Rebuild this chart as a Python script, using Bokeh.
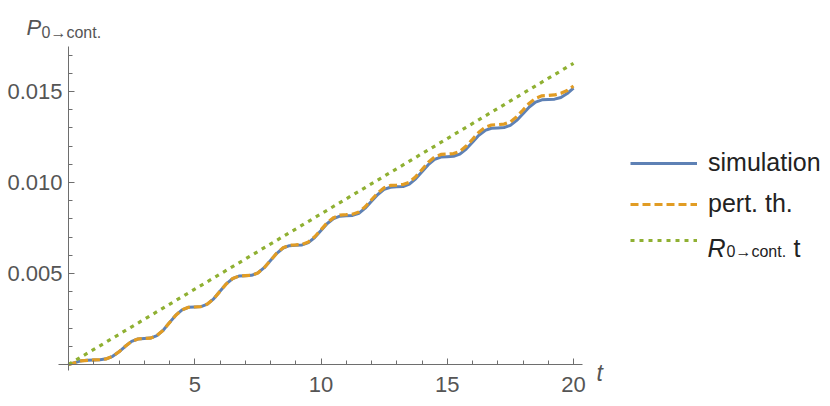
from bokeh.plotting import figure
from bokeh.models import (LinearAxis, FixedTicker, PrintfTickFormatter, Legend,
                          LegendItem, Label, Range1d)
from bokeh.embed import file_html
from bokeh.resources import INLINE

# ---- data ----
t = [i / 4 for i in range(81)]
simulation = [
    0.00000, 0.00010, 0.00020, 0.00023, 0.00025, 0.00026, 0.00031, 0.00045,
    0.00070, 0.00100, 0.00127, 0.00140, 0.00143, 0.00145, 0.00159, 0.00188,
    0.00230, 0.00271, 0.00300, 0.00314, 0.00316, 0.00318, 0.00332, 0.00361,
    0.00402, 0.00443, 0.00472, 0.00486, 0.00488, 0.00490, 0.00503, 0.00532,
    0.00572, 0.00611, 0.00640, 0.00653, 0.00655, 0.00657, 0.00670, 0.00698,
    0.00736, 0.00775, 0.00802, 0.00815, 0.00817, 0.00819, 0.00831, 0.00859,
    0.00897, 0.00934, 0.00962, 0.00974, 0.00976, 0.00978, 0.00991, 0.01020,
    0.01059, 0.01098, 0.01127, 0.01140, 0.01142, 0.01144, 0.01156, 0.01184,
    0.01221, 0.01259, 0.01286, 0.01298, 0.01300, 0.01302, 0.01314, 0.01341,
    0.01378, 0.01415, 0.01442, 0.01454, 0.01456, 0.01458, 0.01467, 0.01489,
    0.01518,
]
pert_th = [
    0.00000, 0.00010, 0.00020, 0.00023, 0.00025, 0.00026, 0.00031, 0.00045,
    0.00070, 0.00100, 0.00127, 0.00140, 0.00143, 0.00145, 0.00159, 0.00188,
    0.00230, 0.00271, 0.00300, 0.00314, 0.00316, 0.00318, 0.00332, 0.00361,
    0.00402, 0.00443, 0.00472, 0.00486, 0.00488, 0.00490, 0.00503, 0.00532,
    0.00572, 0.00612, 0.00641, 0.00655, 0.00657, 0.00660, 0.00673, 0.00702,
    0.00740, 0.00780, 0.00807, 0.00821, 0.00823, 0.00826, 0.00838, 0.00867,
    0.00905, 0.00943, 0.00971, 0.00984, 0.00986, 0.00989, 0.01002, 0.01032,
    0.01071, 0.01111, 0.01140, 0.01154, 0.01156, 0.01159, 0.01171, 0.01200,
    0.01237, 0.01276, 0.01303, 0.01316, 0.01318, 0.01321, 0.01333, 0.01361,
    0.01398, 0.01436, 0.01463, 0.01476, 0.01478, 0.01481, 0.01490, 0.01505,
    0.01530,
]
rate_t = [0, 20]
rate_p = [0, 0.01655]

x_major = [5, 10, 15, 20]
x_minor = [1, 2, 3, 4, 6, 7, 8, 9, 11, 12, 13, 14, 16, 17, 18, 19]
y_major = [0.005, 0.010, 0.015]
y_minor = [0.001, 0.002, 0.003, 0.004, 0.006, 0.007, 0.008, 0.009,
           0.011, 0.012, 0.013, 0.014, 0.016, 0.017]

BLUE = "#5E81B5"
ORANGE = "#E19C24"
GREEN = "#8FB032"
GRAY = "#555555"
AXIS = "#6e6e6e"
TXT = "#222222"
FONT = "Liberation Sans"

W, H = 830, 406
X0, XS = 68.0, 25.25      # pixel x of t=0, px per unit t
Y0, YS = 364.0, 18200.0   # pixel y of P=0, px per unit P


def px_x(px):
    return (px - X0) / XS


def px_y(py):
    return (Y0 - py) / YS


p = figure(width=W, height=H, output_backend="svg", toolbar_location=None,
           x_range=Range1d(px_x(0), px_x(W)), y_range=Range1d(px_y(H), px_y(0)),
           x_axis_type=None, y_axis_type=None,
           min_border_left=0, min_border_right=0,
           min_border_top=0, min_border_bottom=0)
p.outline_line_color = None
p.background_fill_color = "white"
p.border_fill_color = "white"

xaxis = LinearAxis(fixed_location=0, bounds=(px_x(58), px_x(582)),
                   ticker=FixedTicker(ticks=x_major, minor_ticks=x_minor),
                   formatter=PrintfTickFormatter(format="%d"))
yaxis = LinearAxis(fixed_location=0, bounds=(px_y(370), px_y(45.7)),
                   ticker=FixedTicker(ticks=y_major, minor_ticks=y_minor),
                   formatter=PrintfTickFormatter(format="%.3f"))
for ax in (xaxis, yaxis):
    ax.axis_line_color = AXIS
    ax.major_tick_line_color = AXIS
    ax.minor_tick_line_color = AXIS
    ax.major_tick_in = 6
    ax.major_tick_out = 0
    ax.minor_tick_in = 4
    ax.minor_tick_out = 0
    ax.major_label_text_font = FONT
    ax.major_label_text_font_size = "22px"
    ax.major_label_text_color = GRAY
xaxis.major_label_standoff = 12
yaxis.major_label_standoff = 6
p.add_layout(xaxis, "below")
p.add_layout(yaxis, "left")

r_sim = p.line(t, simulation, line_color=BLUE, line_width=3)
r_pert = p.line(t, pert_th, line_color=ORANGE, line_width=3.2, line_dash="8 4")
r_rate = p.line(rate_t, rate_p, line_color=GREEN, line_width=3.2, line_dash="4 5")

legend = Legend(items=[LegendItem(label="simulation", renderers=[r_sim]),
                       LegendItem(label="pert. th.", renderers=[r_pert]),
                       LegendItem(label=" ", renderers=[r_rate])],
                location=(630, 156), orientation="vertical",
                glyph_width=67, glyph_height=20, label_height=20,
                spacing=12, padding=0, margin=0, label_standoff=11,
                border_line_alpha=0, background_fill_alpha=0,
                label_text_font=FONT, label_text_font_size="25px",
                label_text_color=TXT)
p.add_layout(legend, "center")

# axis title P_{0->cont.}
p.add_layout(Label(x=px_x(26), y=px_y(27), text="P", text_font=FONT,
                   text_font_style="italic", text_font_size="22px",
                   text_color=GRAY, text_baseline="alphabetic"))
p.add_layout(Label(x=px_x(41), y=px_y(31.5), text="0\u2192cont.", text_font=FONT,
                   text_font_size="16px", text_color=GRAY,
                   text_baseline="alphabetic"))
# axis title t
p.add_layout(Label(x=px_x(596), y=px_y(372), text="t", text_font=FONT,
                   text_font_style="italic", text_font_size="23px",
                   text_color=GRAY, text_baseline="alphabetic"))
# third legend label R_{0->cont.} t
p.add_layout(Label(x=px_x(707), y=px_y(247), text="R", text_font=FONT,
                   text_font_style="italic", text_font_size="25px",
                   text_color=TXT, text_baseline="alphabetic"))
p.add_layout(Label(x=px_x(726), y=px_y(251), text="0\u2192cont.", text_font=FONT,
                   text_font_size="16px", text_color=TXT,
                   text_baseline="alphabetic"))
p.add_layout(Label(x=px_x(793), y=px_y(247), text="t", text_font=FONT,
                   text_font_size="25px", text_color=TXT,
                   text_baseline="alphabetic"))

open("out.html", "w").write(file_html(p, INLINE))
